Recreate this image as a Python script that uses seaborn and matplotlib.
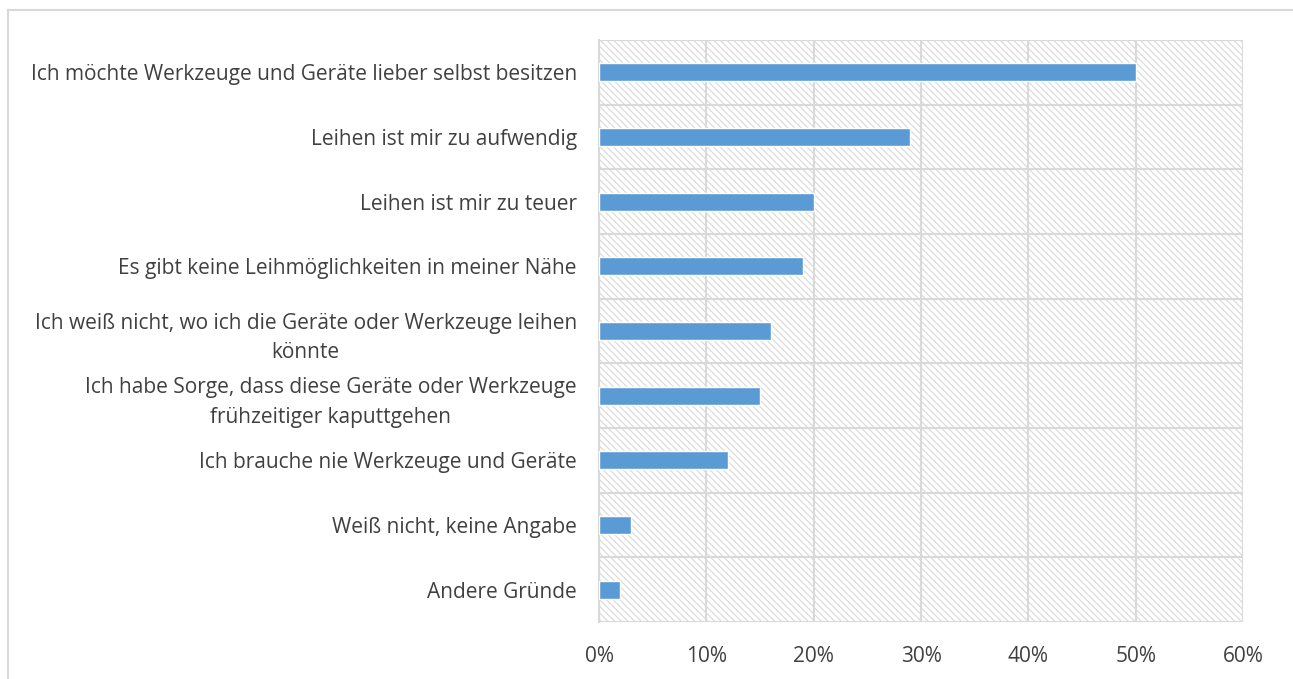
import pandas as pd
import seaborn as sns
import matplotlib.pyplot as plt
from matplotlib.patches import Rectangle
from matplotlib.lines import Line2D

gruende = [
    "Ich möchte Werkzeuge und Geräte lieber selbst besitzen",
    "Leihen ist mir zu aufwendig",
    "Leihen ist mir zu teuer",
    "Es gibt keine Leihmöglichkeiten in meiner Nähe",
    "Ich weiß nicht, wo ich die Geräte oder Werkzeuge leihen\nkönnte",
    "Ich habe Sorge, dass diese Geräte oder Werkzeuge\nfrühzeitiger kaputtgehen",
    "Ich brauche nie Werkzeuge und Geräte",
    "Weiß nicht, keine Angabe",
    "Andere Gründe",
]
anteile = [50, 29, 20, 19, 16, 15, 12, 3, 2]
xticks = [0, 10, 20, 30, 40, 50, 60]

df = pd.DataFrame({"grund": gruende, "anteil": anteile})

sns.set_style("white")
plt.rcParams["font.family"] = ["Open Sans", "DejaVu Sans"]
plt.rcParams["hatch.color"] = "#dcdcdc"
plt.rcParams["hatch.linewidth"] = 0.9

grid_col = "#d9d9d9"
text_col = "#404040"

fig = plt.figure(figsize=(12.93, 6.79), dpi=100)
ax = fig.add_axes([599 / 1293, 1 - 622 / 679, 644 / 1293, 582 / 679])

# schraffierter Hintergrund wie in Excel
ax.add_patch(Rectangle((0, 0), 1, 1, transform=ax.transAxes, facecolor="white",
                       edgecolor="#dcdcdc", linewidth=0, hatch="\\\\\\\\\\", zorder=0))

sns.barplot(data=df, x="anteil", y="grund", orient="h", color="#5B9BD5",
            width=0.28, saturation=1, ax=ax, zorder=3)

ax.set_xlim(0, 60)
ax.set_ylim(len(gruende) - 0.5, -0.5)
ax.set_xticks(xticks)
ax.set_xticklabels([f"{t}%" for t in xticks])
ax.set_yticks(range(len(gruende)))
ax.set_yticklabels(gruende, multialignment="center", linespacing=1.55)
ax.set_yticks([i - 0.5 for i in range(len(gruende) + 1)], minor=True)

ax.grid(True, axis="x", color=grid_col, linewidth=1.5, zorder=1)
ax.grid(True, axis="y", which="minor", color=grid_col, linewidth=1.5, zorder=1)
ax.grid(False, axis="y", which="major")
ax.set_axisbelow(True)

for s in ax.spines.values():
    s.set_visible(False)
ax.spines["left"].set_visible(True)
ax.spines["left"].set_color(grid_col)
ax.spines["left"].set_linewidth(1.5)

ax.tick_params(axis="y", which="minor", length=7, width=1.5, color=grid_col, direction="out")
ax.tick_params(axis="y", which="major", length=0, pad=16, labelsize=15, labelcolor=text_col)
ax.tick_params(axis="x", length=0, pad=17, labelsize=15, labelcolor=text_col)

ax.set_xlabel("")
ax.set_ylabel("")

# Rahmen des Diagrammbereichs
fig.add_artist(Line2D([8 / 1293, 8 / 1293], [0, 1 - 10 / 679], color=grid_col, linewidth=1.5))
fig.add_artist(Line2D([8 / 1293, 1], [1 - 10 / 679, 1 - 10 / 679], color=grid_col, linewidth=1.5))

fig.savefig("out.png", dpi=100)
